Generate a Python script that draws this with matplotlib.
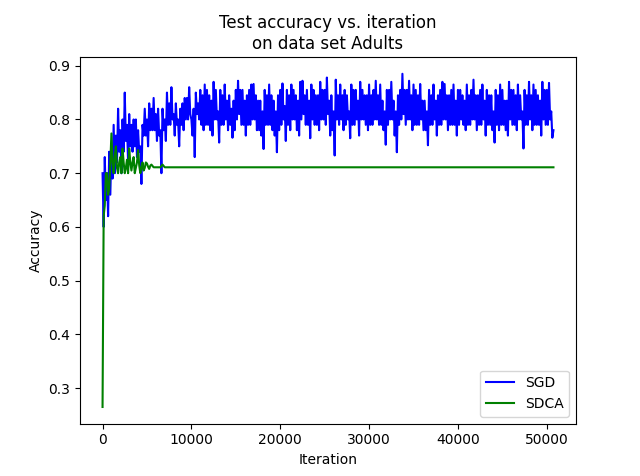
import numpy as np
import matplotlib
matplotlib.use('Agg')
import matplotlib.pyplot as plt

# SGD test accuracy, one reading every 125 iterations
# (values swing between the top and bottom of the noisy band)
SGD_STEP = 125
sgd_acc = [
    0.70, 0.60, 0.73, 0.65, 0.70, 0.62, 0.74, 0.66, 0.75, 0.69,
    0.79, 0.70, 0.77, 0.72, 0.82, 0.74, 0.78, 0.70, 0.80, 0.74,
    0.85, 0.76, 0.79, 0.72, 0.81, 0.75, 0.79, 0.74, 0.80, 0.75,
    0.80, 0.73, 0.78, 0.74, 0.75, 0.68, 0.79, 0.77, 0.82, 0.77,
    0.80, 0.75, 0.83, 0.78, 0.82, 0.78, 0.84, 0.78, 0.81, 0.76,
    0.82, 0.77, 0.78, 0.70, 0.82, 0.78, 0.80, 0.76, 0.85, 0.79,
    0.83, 0.79, 0.86, 0.80, 0.81, 0.77, 0.83, 0.79, 0.80, 0.75,
    0.82, 0.79, 0.83, 0.78, 0.84, 0.80, 0.84, 0.80, 0.86, 0.81,
    0.80, 0.77, 0.82, 0.73, 0.85, 0.81, 0.83, 0.80,
    # from ~5500 iterations on
    0.855, 0.79, 0.845, 0.78, 0.865, 0.79, 0.855, 0.79, 0.845, 0.78,
    0.835, 0.77, 0.87, 0.80, 0.855, 0.80, 0.815, 0.757, 0.855, 0.79,
    0.845, 0.79, 0.865, 0.80, 0.835, 0.78, 0.845, 0.79, 0.82, 0.766,
    0.835, 0.78, 0.855, 0.80, 0.872, 0.81, 0.855, 0.79, 0.855, 0.79,
    0.835, 0.77, 0.845, 0.79, 0.855, 0.79, 0.865, 0.80, 0.866, 0.80,
    0.845, 0.78, 0.835, 0.78, 0.835, 0.77, 0.815, 0.745, 0.855, 0.79,
    0.845, 0.79, 0.865, 0.79, 0.845, 0.78, 0.835, 0.77, 0.815, 0.739,
    0.845, 0.78, 0.855, 0.79, 0.867, 0.80, 0.825, 0.76, 0.855, 0.79,
    0.845, 0.78, 0.865, 0.80, 0.855, 0.80, 0.845, 0.78, 0.835, 0.77,
    0.87, 0.80, 0.872, 0.81, 0.845, 0.79, 0.855, 0.79, 0.835, 0.765,
    0.865, 0.80, 0.855, 0.79, 0.845, 0.79, 0.845, 0.78, 0.87, 0.80,
    0.855, 0.80, 0.855, 0.79, 0.878, 0.81, 0.835, 0.77, 0.845, 0.78,
    0.815, 0.733, 0.874, 0.80, 0.845, 0.79, 0.865, 0.80, 0.845, 0.78,
    0.855, 0.79, 0.845, 0.80, 0.815, 0.765, 0.865, 0.79, 0.855, 0.79,
    0.855, 0.80, 0.835, 0.77, 0.87, 0.80, 0.855, 0.80, 0.845, 0.79,
    0.845, 0.78, 0.865, 0.79, 0.845, 0.79, 0.855, 0.80, 0.872, 0.80,
    0.845, 0.79, 0.865, 0.79, 0.835, 0.78, 0.815, 0.753, 0.855, 0.79,
    0.855, 0.80, 0.87, 0.80, 0.835, 0.77, 0.815, 0.739, 0.845, 0.79,
    0.855, 0.80, 0.885, 0.81, 0.855, 0.79, 0.855, 0.80, 0.872, 0.80,
    0.845, 0.78, 0.865, 0.79, 0.855, 0.79, 0.845, 0.79, 0.866, 0.80,
    0.835, 0.78, 0.835, 0.78, 0.815, 0.752, 0.855, 0.79, 0.845, 0.79,
    0.865, 0.80, 0.835, 0.77, 0.845, 0.79, 0.855, 0.79, 0.87, 0.80,
    0.866, 0.80, 0.845, 0.78, 0.845, 0.79, 0.855, 0.79, 0.865, 0.79,
    0.835, 0.77, 0.855, 0.79, 0.855, 0.80, 0.845, 0.79, 0.835, 0.78,
    0.865, 0.79, 0.845, 0.79, 0.855, 0.80, 0.874, 0.80, 0.845, 0.78,
    0.845, 0.79, 0.855, 0.79, 0.865, 0.80, 0.835, 0.77, 0.855, 0.79,
    0.845, 0.79, 0.845, 0.78, 0.815, 0.757, 0.855, 0.79, 0.845, 0.78,
    0.865, 0.79, 0.855, 0.79, 0.835, 0.78, 0.835, 0.77, 0.87, 0.80,
    0.855, 0.79, 0.855, 0.79, 0.845, 0.78, 0.865, 0.80, 0.845, 0.80,
    0.815, 0.746, 0.855, 0.79, 0.845, 0.79, 0.87, 0.80, 0.845, 0.78,
    0.865, 0.79, 0.855, 0.79, 0.845, 0.79, 0.835, 0.77, 0.87, 0.80,
    0.855, 0.79, 0.855, 0.79, 0.868, 0.80, 0.815, 0.766, 0.78,
]
sgd_iter = np.arange(len(sgd_acc)) * SGD_STEP

# SDCA: noisy start every 125 iterations, then flat
sdca_iter = list(range(0, 5501, 125)) + [5750, 6500, 6750, 7000, 50750]
sdca_acc = [
    0.265, 0.62, 0.64, 0.70, 0.70, 0.66, 0.67, 0.72, 0.774,
    0.72, 0.70, 0.73, 0.75, 0.71, 0.70, 0.72, 0.73, 0.70,
    0.746, 0.72, 0.70, 0.71, 0.725, 0.70, 0.746, 0.72, 0.705,
    0.72, 0.73, 0.70, 0.71, 0.72, 0.743, 0.715, 0.70, 0.71,
    0.72, 0.705, 0.71, 0.72, 0.718, 0.712, 0.708, 0.714, 0.716,
    0.711, 0.711, 0.716, 0.711, 0.711,
]

fig = plt.figure(figsize=(6.4, 4.76), dpi=100)
ax = fig.add_subplot(111)
ax.plot(sgd_iter, sgd_acc, color='b', label='SGD')
ax.plot(sdca_iter, sdca_acc, color='g', label='SDCA')
ax.set_title('Test accuracy vs. iteration\non data set Adults')
ax.set_xlabel('Iteration')
ax.set_ylabel('Accuracy')
ax.legend(loc='lower right')

fig.savefig('out.png', dpi=100)
